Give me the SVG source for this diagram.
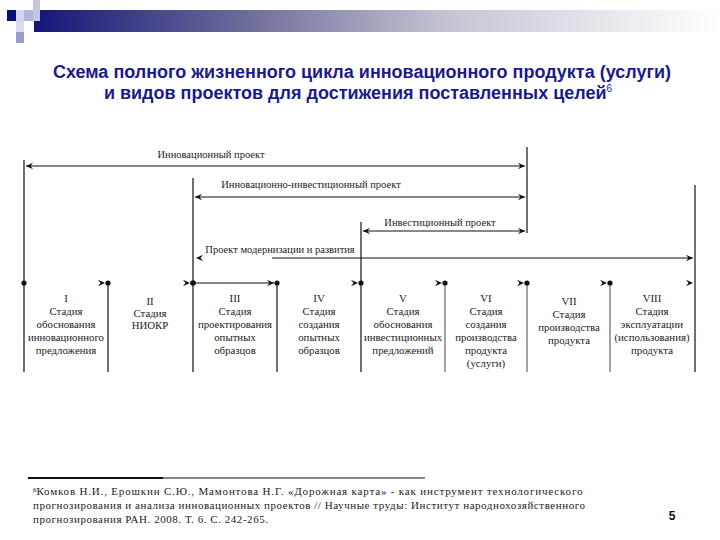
<svg xmlns="http://www.w3.org/2000/svg" width="720" height="540" viewBox="0 0 720 540">
<defs>
<linearGradient id="bar" x1="0" y1="0" x2="1" y2="0">
<stop offset="0" stop-color="#15157a"/>
<stop offset="0.3" stop-color="#6a6a98"/>
<stop offset="0.6" stop-color="#c4c4d4"/>
<stop offset="1" stop-color="#ffffff"/>
</linearGradient>
<path id="ah" d="M-7,-3.2 L0,0 L-7,3.2 L-4.5,0 Z" fill="#111"/>
<style>
.t{font-family:"Liberation Serif","Times New Roman",serif;font-size:10.8px;fill:#222;text-anchor:middle}
.p{font-family:"Liberation Serif","Times New Roman",serif;font-size:10.5px;fill:#222;text-anchor:middle}
.ttl{font-family:"Liberation Sans",Arial,sans-serif;font-size:18px;font-weight:bold;fill:#1a1a8c;text-anchor:middle}
.fn{font-family:"Liberation Serif","Times New Roman",serif;font-size:11px;fill:#222}
.ln{stroke:#111;stroke-width:1.2;fill:none}
.lg{stroke:#666;stroke-width:1.2;fill:none}
.dot{fill:#111}
</style>
</defs>
<rect width="720" height="540" fill="#fff"/>
<g id="header">
<rect x="34" y="10" width="686" height="22" fill="url(#bar)"/>
<rect x="7" y="10" width="9" height="11" fill="#0c0c78"/>
<rect x="16" y="10" width="8" height="11" fill="#d4d4ec"/>
<rect x="24" y="10" width="9" height="11" fill="#b4b4dc"/>
<rect x="33" y="0" width="7" height="21" fill="#c4c4e4"/>
<rect x="16" y="21" width="8" height="11" fill="#dadaf0"/>
<rect x="16" y="32" width="8" height="11" fill="#9a9acc"/>
</g>
<g id="title">
<text class="ttl" x="362" y="78">Схема полного жизненного цикла инновационного продукта (услуги)</text>
<text class="ttl" x="358" y="99">и видов проектов для достижения поставленных целей<tspan font-size="10" font-weight="normal" dy="-7">6</tspan></text>
</g>
<g id="connectors">
<line class="ln" x1="24" y1="160" x2="24" y2="372"/>
<line class="ln" x1="527" y1="147" x2="527" y2="233"/>
<line class="ln" x1="193" y1="178" x2="193" y2="372"/>
<line class="ln" x1="361" y1="222" x2="361" y2="372"/>
<line class="ln" x1="695" y1="185" x2="695" y2="372"/>
<line class="ln" x1="108" y1="283" x2="108" y2="372"/>
<line class="ln" x1="277" y1="283" x2="277" y2="372"/>
<line class="lg" x1="445" y1="283" x2="445" y2="372"/>
<line class="lg" x1="527" y1="283" x2="527" y2="372"/>
<line class="lg" x1="610" y1="283" x2="610" y2="372"/>
<line class="ln" x1="26" y1="166" x2="525" y2="166"/>
<use href="#ah" transform="translate(26,166) scale(-1,1)"/>
<use href="#ah" transform="translate(525,166)"/>
<line class="ln" x1="195" y1="197" x2="525" y2="197" stroke-width="1.6"/>
<use href="#ah" transform="translate(195,197) scale(-1,1)"/>
<use href="#ah" transform="translate(525,197)"/>
<line class="ln" x1="363" y1="231" x2="525" y2="231"/>
<use href="#ah" transform="translate(363,231) scale(-1,1)"/>
<use href="#ah" transform="translate(525,231)"/>
<line class="ln" x1="272" y1="258" x2="693" y2="258"/>
<use href="#ah" transform="translate(196,258) scale(-1,1)"/>
<use href="#ah" transform="translate(693,258)"/>
<line class="ln" x1="193" y1="283" x2="274" y2="283"/>
<use href="#ah" transform="translate(274,283)"/>
<circle class="dot" cx="24" cy="283" r="2.6"/>
<use href="#ah" transform="translate(105,283)"/>
<circle class="dot" cx="108" cy="283" r="2.6"/>
<use href="#ah" transform="translate(190,283)"/>
<circle class="dot" cx="193" cy="283" r="2.8"/>
<circle class="dot" cx="277" cy="283" r="2.6"/>
<use href="#ah" transform="translate(358,283)"/>
<circle class="dot" cx="361" cy="283" r="2.6"/>
<use href="#ah" transform="translate(442,283)"/>
<circle class="dot" cx="445" cy="283" r="2.6"/>
<use href="#ah" transform="translate(524,283)"/>
<circle class="dot" cx="527" cy="283" r="2.6"/>
<use href="#ah" transform="translate(607,283)"/>
<circle class="dot" cx="610" cy="283" r="2.6"/>
<use href="#ah" transform="translate(693,283)"/>
</g>
<g id="proj-innov"><text class="p" x="211" y="158">Инновационный проект</text></g>
<g id="proj-innov-invest"><text class="p" x="311" y="188">Инновационно-инвестиционный проект</text></g>
<g id="proj-invest"><text class="p" x="440" y="226">Инвестиционный проект</text></g>
<g id="proj-modern"><text class="p" x="280" y="253">Проект модернизации и развития</text></g>
<g id="stage1"><text class="t" x="66" y="302">I</text><text class="t" x="66" y="315">Стадия</text><text class="t" x="66" y="328">обоснования</text><text class="t" x="66" y="341">инновационного</text><text class="t" x="66" y="354">предложения</text></g>
<g id="stage2"><text class="t" x="150" y="305">II</text><text class="t" x="150" y="317">Стадия</text><text class="t" x="150" y="329">НИОКР</text></g>
<g id="stage3"><text class="t" x="235" y="302">III</text><text class="t" x="235" y="315">Стадия</text><text class="t" x="235" y="328">проектирования</text><text class="t" x="235" y="341">опытных</text><text class="t" x="235" y="354">образцов</text></g>
<g id="stage4"><text class="t" x="319" y="302">IV</text><text class="t" x="319" y="315">Стадия</text><text class="t" x="319" y="328">создания</text><text class="t" x="319" y="341">опытных</text><text class="t" x="319" y="354">образцов</text></g>
<g id="stage5"><text class="t" x="403" y="302">V</text><text class="t" x="403" y="315">Стадия</text><text class="t" x="403" y="328">обоснования</text><text class="t" x="403" y="341">инвестиционных</text><text class="t" x="403" y="354">предложений</text></g>
<g id="stage6"><text class="t" x="486" y="302">VI</text><text class="t" x="486" y="315">Стадия</text><text class="t" x="486" y="328">создания</text><text class="t" x="486" y="341">производства</text><text class="t" x="486" y="354">продукта</text><text class="t" x="486" y="367">(услуги)</text></g>
<g id="stage7"><text class="t" x="569" y="305">VII</text><text class="t" x="569" y="318">Стадия</text><text class="t" x="569" y="331">производства</text><text class="t" x="569" y="344">продукта</text></g>
<g id="stage8"><text class="t" x="652" y="302">VIII</text><text class="t" x="652" y="315">Стадия</text><text class="t" x="652" y="328">эксплуатации</text><text class="t" x="652" y="341">(использования)</text><text class="t" x="652" y="354">продукта</text></g>
<g id="footnote">
<line x1="28" y1="478" x2="163" y2="478" stroke="#111" stroke-width="1.8"/>
<line x1="163" y1="478" x2="425" y2="478" stroke="#111" stroke-width="1"/>
<text class="fn" x="33" y="495"><tspan font-size="7" dy="-3">6</tspan><tspan dy="3" textLength="546" lengthAdjust="spacing">Комков Н.И., Ерошкин С.Ю., Мамонтова Н.Г. «Дорожная карта» - как инструмент технологического</tspan></text>
<text class="fn" x="33" y="509" textLength="552" lengthAdjust="spacing">прогнозирования и анализа инновационных проектов // Научные труды: Институт народнохозяйственного</text>
<text class="fn" x="33" y="523" textLength="235" lengthAdjust="spacing">прогнозирования РАН. 2008. Т. 6. С. 242-265.</text>
</g>
<g id="page"><text x="672" y="520" font-family="Liberation Sans,Arial,sans-serif" font-size="12" font-weight="bold" fill="#111" text-anchor="middle">5</text></g>
</svg>
